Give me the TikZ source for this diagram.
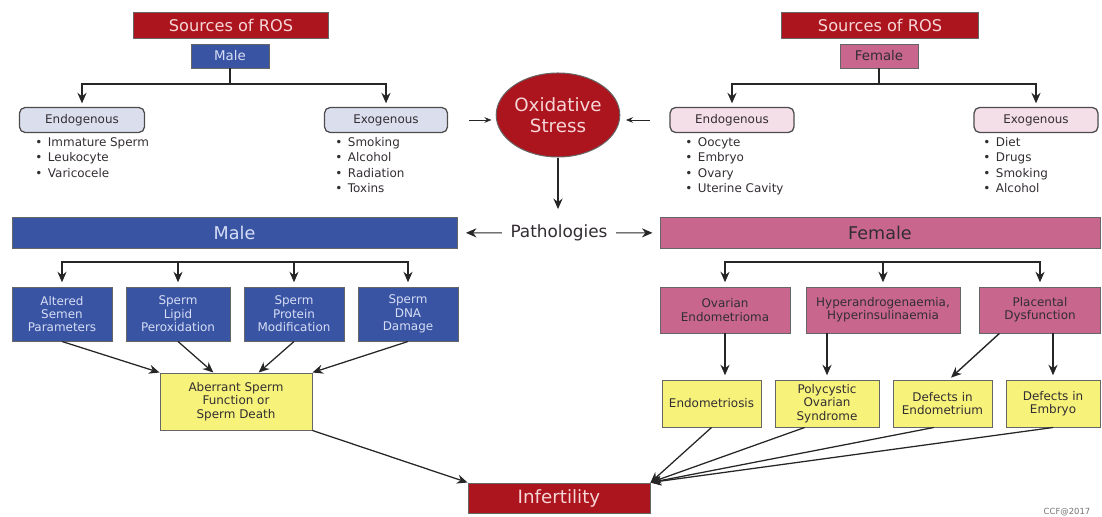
\documentclass[tikz,border=0pt]{standalone}
\usepackage{fontspec}
\setmainfont{DejaVu Sans}
\usetikzlibrary{shapes.geometric,arrows.meta}

\definecolor{rosred}{RGB}{172,20,30}
\definecolor{maleblue}{RGB}{58,84,164}
\definecolor{femalepink}{RGB}{200,102,142}
\definecolor{resultyellow}{RGB}{246,242,122}
\definecolor{malelav}{RGB}{219,222,237}
\definecolor{femalerose}{RGB}{244,222,231}
\definecolor{lighttext}{RGB}{246,214,214}
\definecolor{bluetext}{RGB}{214,222,245}
\definecolor{darktext}{RGB}{50,45,50}

\newcommand{\bl}{\textbullet\hspace{4pt}}

\tikzset{
  wh/.style 2 args={minimum width=#1*0.025cm, minimum height=#2*0.025cm},
  boxbase/.style={rectangle, draw=black!60, line width=0.7pt, inner sep=0pt, align=center,
    font=\fontsize{8.5}{9.5}\selectfont},
  redbox/.style={boxbase, fill=rosred, text=lighttext},
  bluebox/.style={boxbase, fill=maleblue, text=bluetext},
  pinkbox/.style={boxbase, fill=femalepink, text=darktext},
  yellowbox/.style={boxbase, fill=resultyellow, text=darktext},
  srcbox/.style={boxbase, draw=black!70, line width=0.9pt, rounded corners=4pt, text=darktext},
  bullets/.style={align=left, inner sep=0pt, anchor=north west, text=darktext,
    font=\fontsize{8.5}{11}\selectfont},
  arr/.style={-{Stealth[length=7.5pt,width=6.5pt]}, line width=1pt, black!85},
  thinarr/.style={-{Stealth[length=5pt,width=4pt]}, line width=0.6pt, black!85},
}

\begin{document}
\begin{tikzpicture}[x=0.025cm, y=-0.025cm]
  \useasboundingbox (0,0) rectangle (1102,517);
  % Nodes
  \node (src-m) [redbox, wh={195}{26}, font=\fontsize{11.5}{14}\selectfont] at (231,25) {Sources of ROS};
  \node (male-s) [bluebox, wh={78}{24}, font=\fontsize{9.5}{11}\selectfont] at (230,56) {Male};
  \node (endo-m) [srcbox, fill=malelav, wh={125}{25}] at (82,120) {Endogenous};
  \node (exo-m) [srcbox, fill=malelav, wh={123}{25}] at (386,120) {Exogenous};
  \node (endo-m-list) [bullets] at (35,137) {\bl Immature Sperm\\\bl Leukocyte\\\bl Varicocele};
  \node (exo-m-list) [bullets] at (335,137) {\bl Smoking\\\bl Alcohol\\\bl Radiation\\\bl Toxins};

  \node (src-f) [redbox, wh={197}{26}, font=\fontsize{11.5}{14}\selectfont] at (880,25) {Sources of ROS};
  \node (female-s) [pinkbox, wh={78}{24}, font=\fontsize{9.5}{11}\selectfont] at (879,56) {Female};
  \node (endo-f) [srcbox, fill=femalerose, wh={124}{25}] at (732,120) {Endogenous};
  \node (exo-f) [srcbox, fill=femalerose, wh={124}{25}] at (1036,120) {Exogenous};
  \node (endo-f-list) [bullets] at (685,137) {\bl Oocyte\\\bl Embryo\\\bl Ovary\\\bl Uterine Cavity};
  \node (exo-f-list) [bullets] at (983,137) {\bl Diet\\\bl Drugs\\\bl Smoking\\\bl Alcohol};

  \node (ox) [ellipse, draw=black!60, line width=0.7pt, fill=rosred, text=lighttext, minimum width=2.9cm,
    minimum height=2.1cm, inner sep=0pt, align=center, font=\fontsize{13}{14.5}\selectfont] at (558,115) {Oxidative\\Stress};
  \node (patho) [text=darktext, inner sep=0pt, font=\fontsize{12}{14}\selectfont] at (559,233) {Pathologies};

  \node (male-bar) [bluebox, wh={445}{31}, font=\fontsize{12.5}{14}\selectfont] at (234.5,232.5) {Male};
  \node (female-bar) [pinkbox, wh={440}{31}, font=\fontsize{12.5}{14}\selectfont] at (880,232.5) {Female};

  \node (mb-1) [bluebox, wh={100}{54}] at (62,314) {Altered\\Semen\\Parameters};
  \node (mb-2) [bluebox, wh={104}{54}] at (178,314) {Sperm\\Lipid\\Peroxidation};
  \node (mb-3) [bluebox, wh={100}{54}] at (294,314) {Sperm\\Protein\\Modification};
  \node (mb-4) [bluebox, wh={100}{54}] at (408,314) {Sperm\\DNA\\Damage};
  \node (aberrant) [yellowbox, wh={152}{57}] at (236,401.5) {Aberrant Sperm\\Function or\\Sperm Death};

  \node (fp-1) [pinkbox, wh={130}{46}] at (725,310) {Ovarian\\Endometrioma};
  \node (fp-2) [pinkbox, wh={154}{46}] at (883,310) {Hyperandrogenaemia,\\Hyperinsulinaemia};
  \node (fp-3) [pinkbox, wh={121}{46}] at (1040,310) {Placental\\Dysfunction};
  \node (fy-1) [yellowbox, wh={99}{47}] at (711.5,403.5) {Endometriosis};
  \node (fy-2) [yellowbox, wh={104}{47}] at (827,403.5) {Polycystic\\Ovarian\\Syndrome};
  \node (fy-3) [yellowbox, wh={99}{47}] at (942.5,403.5) {Defects in\\Endometrium};
  \node (fy-4) [yellowbox, wh={94}{47}] at (1053,403.5) {Defects in\\Embryo};

  \node (infert) [redbox, wh={182}{30}, font=\fontsize{13}{15}\selectfont] at (559,498) {Infertility};
  \node (ccf) [text=black!55, font=\fontsize{6}{7}\selectfont] at (1067,512) {CCF@2017};

  % Arrow
  \coordinate (fork-m) at (230,84);
  \coordinate (fork-f) at (879,84);
  \draw[line width=1pt, black!85] (male-s) -- (fork-m);
  \draw[arr, shorten >=2.5pt] (fork-m) -| (endo-m);
  \draw[arr, shorten >=2.5pt] (fork-m) -| (exo-m);
  \draw[line width=1pt, black!85] (female-s) -- (fork-f);
  \draw[arr, shorten >=2.5pt] (fork-f) -| (endo-f);
  \draw[arr, shorten >=2.5pt] (fork-f) -| (exo-f);

  \draw[thinarr, shorten <=15pt, shorten >=3pt] (exo-m.east) -- (exo-m.east -| ox.west);
  \draw[thinarr, shorten <=14pt, shorten >=4pt] (endo-f.west) -- (endo-f.west -| ox.east);
  \draw[arr, shorten >=11pt] (ox.south) -- (ox.south |- patho.north);
  \draw[arr, line width=0.8pt, shorten <=6pt, shorten >=6pt] (patho) -- (male-bar);
  \draw[arr, line width=0.8pt, shorten <=6pt, shorten >=5pt] (patho) -- (female-bar);

  \coordinate (fork-mb) at (235,262);
  \coordinate (fork-fb) at (883,262);
  \draw[arr, shorten >=3pt] (fork-mb) -| (mb-1);
  \draw[arr, shorten >=3pt] (fork-mb) -| (mb-2);
  \draw[arr, shorten >=3pt] (fork-mb) -| (mb-3);
  \draw[arr, shorten >=3pt] (fork-mb) -| (mb-4);
  \draw[arr, shorten >=3pt] (fork-fb) -| (fp-1);
  \draw[arr, shorten >=3pt] (fork-fb) -- (fp-2);
  \draw[arr, shorten >=3pt] (fork-fb) -| (fp-3);

  \draw[arr, line width=0.9pt] (mb-1.south) -- (aberrant.north west);
  \draw[arr, line width=0.9pt] (mb-2.south) -- (aberrant.128);
  \draw[arr, line width=0.9pt] (mb-3.south) -- (aberrant.52);
  \draw[arr, line width=0.9pt] (mb-4.south) -- (aberrant.north east);
  \draw[arr, line width=0.9pt] (aberrant.south east) -- (infert.north west);

  \draw[arr, shorten >=3pt] (fp-1) -- (fp-1 |- fy-1.north);
  \draw[arr, shorten >=3pt] (fp-2.south -| fy-2) -- (fy-2);
  \draw[arr, shorten >=2pt] (fp-3.210) -- (fy-3.75);
  \draw[arr, shorten >=3pt] (fp-3.south -| fy-4) -- (fy-4);

  \draw[arr, line width=0.9pt] (fy-1.south) -- (infert.north east);
  \draw[arr, line width=0.9pt] (fy-2.227) -- (infert.north east);
  \draw[arr, line width=0.9pt] (fy-3.250) -- (infert.north east);
  \draw[arr, line width=0.9pt] (fy-4.south) -- (infert.north east);
\end{tikzpicture}
\end{document}
